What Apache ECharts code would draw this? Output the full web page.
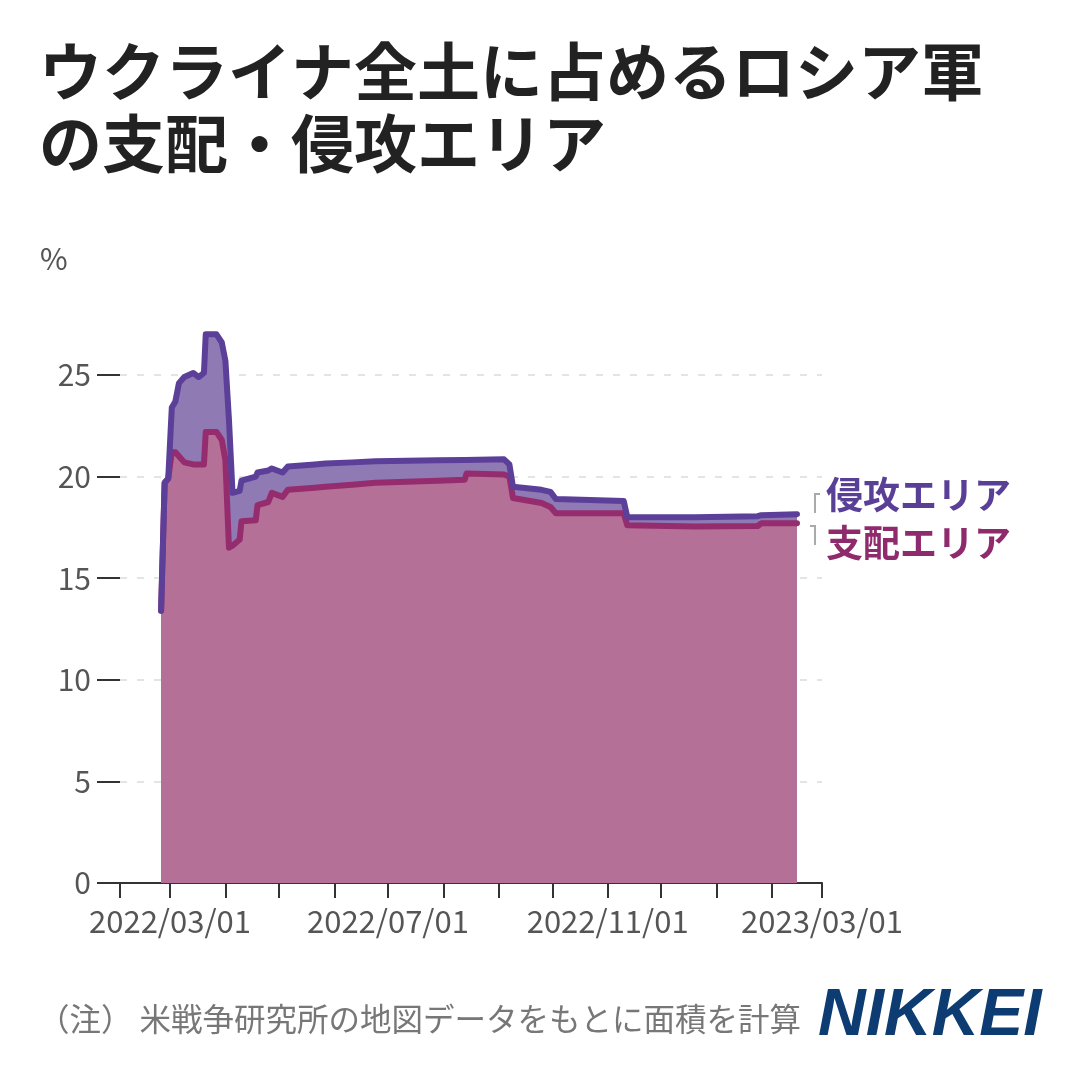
<!DOCTYPE html>
<html>
<head>
<meta charset="utf-8">
<script src="https://cdn.jsdelivr.net/npm/echarts@6/dist/echarts.min.js"></script>
<style>
html,body{margin:0;padding:0;background:#fff;}
#chart{width:1080px;height:1070px;}
</style>
</head>
<body>
<div id="chart"></div>
<script>
// ---- data ----
var dates = [
  '2022-02-24','2022-02-26','2022-02-28','2022-03-02','2022-03-04','2022-03-06','2022-03-09',
  '2022-03-14','2022-03-17','2022-03-20','2022-03-21','2022-03-27','2022-03-30','2022-04-01',
  '2022-04-03','2022-04-05','2022-04-09','2022-04-10','2022-04-18','2022-04-19','2022-04-25',
  '2022-04-27','2022-05-03','2022-05-06','2022-05-21','2022-05-27','2022-06-11','2022-06-24',
  '2022-07-29','2022-08-13','2022-08-14','2022-09-04','2022-09-07','2022-09-09','2022-09-25',
  '2022-09-30','2022-10-03','2022-11-10','2022-11-12','2022-12-20','2023-01-24','2023-01-26',
  '2023-02-15'
];
var invasion = [
  13.4,19.7,19.9,23.4,23.7,24.6,24.9,
  25.1,24.9,25.1,27.0,27.0,26.6,25.7,
  22.8,19.2,19.3,19.8,20.0,20.2,20.3,
  20.4,20.2,20.5,20.6,20.65,20.7,20.75,
  20.8,20.82,20.83,20.85,20.6,19.5,19.35,
  19.25,18.9,18.8,18.0,18.0,18.05,18.1,
  18.15
];
var control = [
  13.4,19.7,19.9,21.2,21.2,21.0,20.7,
  20.6,20.6,20.6,22.2,22.2,21.8,20.8,
  16.5,16.6,16.9,17.8,17.85,18.6,18.75,
  19.2,19.0,19.35,19.45,19.5,19.6,19.7,
  19.8,19.85,20.15,20.1,20.0,18.95,18.7,
  18.5,18.2,18.2,17.6,17.55,17.57,17.7,
  17.7
];
var yTicks = [0, 5, 10, 15, 20, 25];
var xTickMonths = ['2022-02-01','2022-03-01','2022-04-01','2022-05-01','2022-06-01','2022-07-01',
  '2022-08-01','2022-09-01','2022-10-01','2022-11-01','2022-12-01','2023-01-01','2023-02-01','2023-03-01'];
var xLabelDates = ['2022-03-01','2022-07-01','2022-11-01','2023-03-01'];
var seriesNames = ['侵攻エリア', '支配エリア'];

function ts(s){ var p = s.split('-'); return Date.UTC(+p[0], +p[1]-1, +p[2]); }
function pad(n){ return (n < 10 ? '0' : '') + n; }

var invData = dates.map(function(d, i){ return [ts(d), invasion[i]]; });
var ctlData = dates.map(function(d, i){ return [ts(d), control[i]]; });

var FONT = '"Noto Sans CJK JP", "Noto Sans", sans-serif';
var C_INV_LINE = '#5b3f98', C_INV_FILL = '#8f7ab4';
var C_CTL_LINE = '#952c6e', C_CTL_FILL = '#b57098';

var chart = echarts.init(document.getElementById('chart'), null, {renderer: 'canvas'});
chart.setOption({
  animation: false,
  backgroundColor: '#fff',
  title: {
    text: 'ウクライナ全土に占めるロシア軍\nの支配・侵攻エリア',
    left: 34, top: 30,
    textStyle: {fontFamily: FONT, fontSize: 63, fontWeight: 'bold', color: '#222', lineHeight: 72}
  },
  grid: {left: 120, right: 258, top: 273.4, bottom: 187, containLabel: false},
  xAxis: {
    type: 'value',
    min: ts('2022-02-01'), max: ts('2023-03-01'),
    axisLine: {show: true, lineStyle: {color: '#333', width: 2}},
    axisTick: {show: true, length: 15, lineStyle: {color: '#333', width: 2},
      customValues: xTickMonths.map(ts)},
    axisLabel: {
      customValues: xLabelDates.map(ts),
      margin: 23, color: '#555', fontSize: 31, fontFamily: FONT,
      formatter: function(v){ var d = new Date(v); return d.getUTCFullYear() + '/' + pad(d.getUTCMonth()+1) + '/' + pad(d.getUTCDate()); }
    },
    splitLine: {show: false}
  },
  yAxis: {
    type: 'value', min: 0, max: 30,
    axisLine: {show: false},
    axisTick: {show: true, length: 23, lineStyle: {color: '#333', width: 2}, customValues: yTicks},
    axisLabel: {customValues: yTicks, margin: 29, color: '#555', fontSize: 30, fontFamily: FONT},
    splitLine: {show: true, lineStyle: {color: '#e4e4e4', width: 2, type: [7, 10]}}
  },
  series: [
    {
      name: seriesNames[0], type: 'line', data: invData, symbol: 'none',
      lineStyle: {width: 0}, areaStyle: {color: C_INV_FILL, opacity: 1}, z: 2
    },
    {
      name: seriesNames[1], type: 'line', data: ctlData, symbol: 'none',
      lineStyle: {width: 6, color: C_CTL_LINE, cap: 'round', join: 'round'},
      areaStyle: {color: C_CTL_FILL, opacity: 1}, z: 3
    },
    {
      name: seriesNames[0] + '線', type: 'line', data: invData, symbol: 'none',
      lineStyle: {width: 6, color: C_INV_LINE, cap: 'round', join: 'round'}, z: 4
    }
  ],
  graphic: [
    {type: 'text', left: 40, top: 244, style: {text: '%', font: '30px ' + FONT, fill: '#555'}},
    {type: 'text', left: 826, top: 476, style: {text: seriesNames[0], font: 'bold 37px ' + FONT, fill: '#5a3f97'}},
    {type: 'text', left: 826, top: 524, style: {text: seriesNames[1], font: 'bold 37px ' + FONT, fill: '#8f2b6d'}},
    {type: 'polyline', shape: {points: [[820, 494], [815, 494], [815, 513]]}, style: {stroke: '#aaa', lineWidth: 2, fill: null}},
    {type: 'polyline', shape: {points: [[810, 526], [815, 526], [815, 545]]}, style: {stroke: '#aaa', lineWidth: 2, fill: null}},
    {type: 'text', left: 38, top: 1003, style: {text: '（注） 米戦争研究所の地図データをもとに面積を計算', font: '31.5px ' + FONT, fill: '#777'}},
    {type: 'text', left: 818, top: 984, style: {text: 'NIKKEI', font: 'italic bold 66px "Liberation Sans", Arial, sans-serif', fill: '#0c3c71'}}
  ]
});
</script>
</body>
</html>
